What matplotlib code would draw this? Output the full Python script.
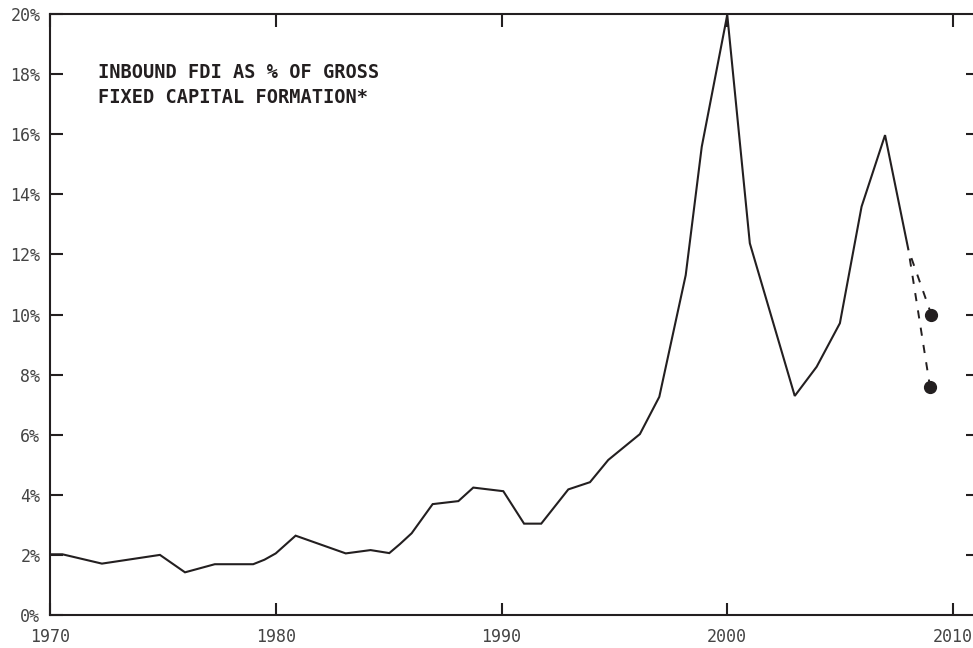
import matplotlib
matplotlib.use("Agg")
import matplotlib.pyplot as plt

# inbound FDI as % of gross fixed capital formation
years = [1970.0, 1970.55, 1972.3, 1974.87, 1975.98, 1977.3, 1979.0, 1979.5,
         1980.0, 1980.88, 1983.1, 1984.2, 1985.03, 1985.5, 1986.02, 1986.95,
         1988.09, 1988.75, 1990.08, 1991.0, 1991.76, 1992.96, 1993.92,
         1994.73, 1996.13, 1996.99, 1998.16, 1998.87, 2000.0, 2001.0,
         2002.99, 2003.96, 2004.99, 2005.95, 2006.99, 2008.02]
fdi_pct = [2.02, 2.02, 1.71, 2.0, 1.42, 1.69, 1.69, 1.84,
           2.05, 2.64, 2.05, 2.16, 2.06, 2.36, 2.72, 3.69,
           3.79, 4.24, 4.12, 3.04, 3.04, 4.18, 4.42,
           5.16, 6.02, 7.26, 11.31, 15.58, 19.97, 12.37,
           7.29, 8.26, 9.71, 13.59, 15.97, 12.17]

# 2009 estimates (two scenarios)
est_years = [2009.04, 2008.98]
est_pct = [10.0, 7.6]

ink = "#231f20"
plt.rcParams["font.family"] = ["DejaVu Sans Mono", "DejaVu Sans"]

fig = plt.figure(figsize=(9.73, 6.48), dpi=100)
fig.patch.set_facecolor("white")
fig.patch.set_linewidth(0)
# axes run a little past the right edge of the canvas, like the original
ax = fig.add_axes([50 / 973, 33 / 648, 950 / 973, 601 / 648])
ax.patch.set_visible(False)

ax.plot(years, fdi_pct, color=ink, lw=1.5, solid_joinstyle="miter")
for ex, ey in zip(est_years, est_pct):
    ax.plot([years[-1], ex], [fdi_pct[-1], ey], color=ink, lw=1.4,
            linestyle=(4.2, (4.2, 4.8)))
    ax.plot(ex, ey, "o", color=ink, ms=8.5)

ax.set_xlim(1970, 1970 + 950 / 22.575)
ax.set_ylim(0, 20)
ax.set_xticks([1970, 1980, 1990, 2000, 2010])
ax.set_yticks(range(0, 21, 2))
ax.set_yticklabels([f"{v}%" for v in range(0, 21, 2)])

ax.tick_params(axis="both", direction="in", length=9, width=1.5, color=ink,
               labelsize=12, labelcolor="#444444")
ax.tick_params(axis="x", top=True, pad=9)
ax.tick_params(axis="y", right=False, pad=7)

for s in ["left", "top", "bottom"]:
    ax.spines[s].set_color(ink)
    ax.spines[s].set_linewidth(1.5)
ax.spines["right"].set_visible(False)

# short marks at the right edge of the picture
ax.hlines(range(2, 20, 2), (966 - 50) / 950, (985 - 50) / 950,
          transform=ax.get_yaxis_transform(), color=ink, lw=1.5)

ax.text(0.0505, 0.918, "INBOUND FDI AS % OF GROSS\nFIXED CAPITAL FORMATION*",
        transform=ax.transAxes, ha="left", va="top", fontsize=13.4,
        fontweight="bold", color=ink, linespacing=1.35)

fig.savefig("out.png", dpi=100, facecolor="white")
